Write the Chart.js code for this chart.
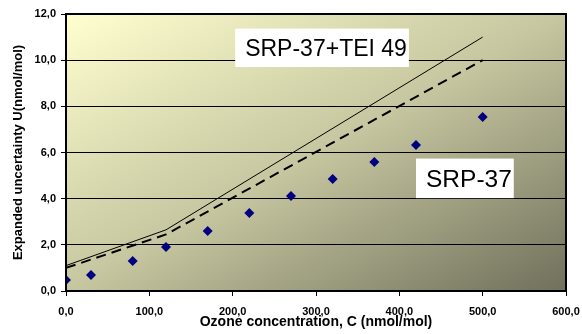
<!DOCTYPE html>
<html>
<head>
<meta charset="utf-8">
<script src="https://cdn.jsdelivr.net/npm/chart.js@4"></script>
<style>
  body { margin: 0; background: #fff; }
  #wrap { width: 582px; height: 334px; }
</style>
</head>
<body>
<div id="wrap"><canvas id="chart" width="582" height="334"></canvas></div>
<script>
// measured points (SRP-37)
const concentration = [0, 30, 80, 120, 170, 220, 270, 320, 370, 420, 500];
const uncertainty = [0.48, 0.69, 1.30, 1.91, 2.60, 3.38, 4.12, 4.85, 5.59, 6.33, 7.54];

// SRP-37+TEI 49 (solid line)
const tei49X = [0, 120, 500];
const tei49Y = [1.1, 2.65, 11.0];

// SRP-37 (dashed line)
const srp37X = [0, 120, 500];
const srp37Y = [1.0, 2.45, 10.0];

const labelTei = 'SRP-37+TEI 49';
const labelSrp = 'SRP-37';

const toPoints = (xs, ys) => xs.map((x, i) => ({ x: x, y: ys[i] }));
const fmt = v => Number(v).toFixed(1).replace('.', ',');

const bgPlugin = {
  id: 'bg',
  beforeDraw(chart) {
    const { ctx, chartArea: a } = chart;
    const w = a.right - a.left, h = a.bottom - a.top;
    const cx = (a.left + a.right) / 2, cy = (a.top + a.bottom) / 2;
    const len = Math.hypot(w, h);
    const ux = h / len, uy = w / len;
    const half = (w * h * 2 / len) / 2;
    const g = ctx.createLinearGradient(cx - ux * half, cy - uy * half, cx + ux * half, cy + uy * half);
    g.addColorStop(0, '#ffffd0');
    g.addColorStop(0.5, '#c6c6a0');
    g.addColorStop(1, '#70705c');
    ctx.save();
    ctx.fillStyle = g;
    ctx.fillRect(a.left, a.top, w, h);
    ctx.restore();
  },
  afterDatasetsDraw(chart) {
    const { ctx, chartArea: a, scales } = chart;
    ctx.save();
    ctx.strokeStyle = '#000';
    ctx.lineWidth = 2;
    ctx.strokeRect(a.left, a.top, a.right - a.left, a.bottom - a.top);

    const drawLabel = (text, cx, cy, size, padR) => {
      const x = scales.x.getPixelForValue(cx);
      const y = scales.y.getPixelForValue(cy);
      ctx.font = size + 'px "Liberation Sans", Arial, sans-serif';
      const tw = ctx.measureText(text).width;
      const cap = size * 0.716;
      ctx.fillStyle = '#fff';
      ctx.fillRect(x - 10, y - cap - 11, tw + 10 + padR, cap + 22);
      ctx.fillStyle = '#000';
      ctx.textBaseline = 'alphabetic';
      ctx.fillText(text, x, y);
    };
    drawLabel(labelTei, 215, 10.18, 23, 2);
    drawLabel(labelSrp, 432, 4.5, 24.5, 2);
    ctx.restore();
  }
};

new Chart(document.getElementById('chart'), {
  type: 'scatter',
  data: {
    datasets: [
      {
        label: labelTei,
        data: toPoints(tei49X, tei49Y),
        showLine: true,
        borderColor: '#000',
        borderWidth: 1,
        pointRadius: 0
      },
      {
        label: labelSrp,
        data: toPoints(srp37X, srp37Y),
        showLine: true,
        borderColor: '#000',
        borderWidth: 2,
        borderDash: [10, 6],
        pointRadius: 0
      },
      {
        label: 'points',
        data: toPoints(concentration, uncertainty),
        pointStyle: 'rectRot',
        pointRadius: 5,
        backgroundColor: '#000080',
        borderColor: '#000080',
        borderWidth: 0
      }
    ]
  },
  options: {
    responsive: false,
    animation: false,
    layout: { padding: { left: 0, right: 16, top: 14, bottom: 0 } },
    plugins: { legend: { display: false }, tooltip: { enabled: false } },
    scales: {
      x: {
        type: 'linear',
        min: 0,
        max: 600,
        ticks: {
          stepSize: 100,
          maxRotation: 0,
          padding: 9,
          color: '#000',
          font: { family: 'Arial, "Liberation Sans", sans-serif', size: 11, weight: 'bold' },
          callback: fmt
        },
        grid: { drawOnChartArea: false, drawTicks: true, tickLength: 5, color: '#000' },
        border: { color: '#000', width: 2 },
        title: {
          display: true,
          text: 'Ozone concentration, C (nmol/mol)',
          color: '#000',
          font: { family: 'Arial, "Liberation Sans", sans-serif', size: 14, weight: 'bold' },
          padding: { top: 0, bottom: 3 }
        },
        afterFit(scale) {
          scale.height = 43;
          scale.paddingLeft = 0;
          scale.paddingRight = 0;
        }
      },
      y: {
        min: 0,
        max: 12,
        ticks: {
          stepSize: 2,
          padding: 5,
          color: '#000',
          font: { family: 'Arial, "Liberation Sans", sans-serif', size: 11, weight: 'bold' },
          callback: fmt
        },
        grid: {
          color: ctx => (ctx.tick && (ctx.tick.value === 0 || ctx.tick.value === 12)) ? 'rgba(0,0,0,0)' : '#000',
          tickColor: '#000',
          lineWidth: 1,
          tickLength: 5
        },
        border: { color: '#000', width: 2 },
        title: {
          display: true,
          text: 'Expanded uncertainty U(nmol/mol)',
          color: '#000',
          font: { family: 'Arial, "Liberation Sans", sans-serif', size: 13, weight: 'bold' },
          padding: { top: 11, bottom: 0 }
        },
        afterFit(scale) {
          scale.width = 66;
          scale.paddingTop = 0;
          scale.paddingBottom = 0;
        }
      }
    }
  },
  plugins: [bgPlugin]
});
</script>
</body>
</html>
